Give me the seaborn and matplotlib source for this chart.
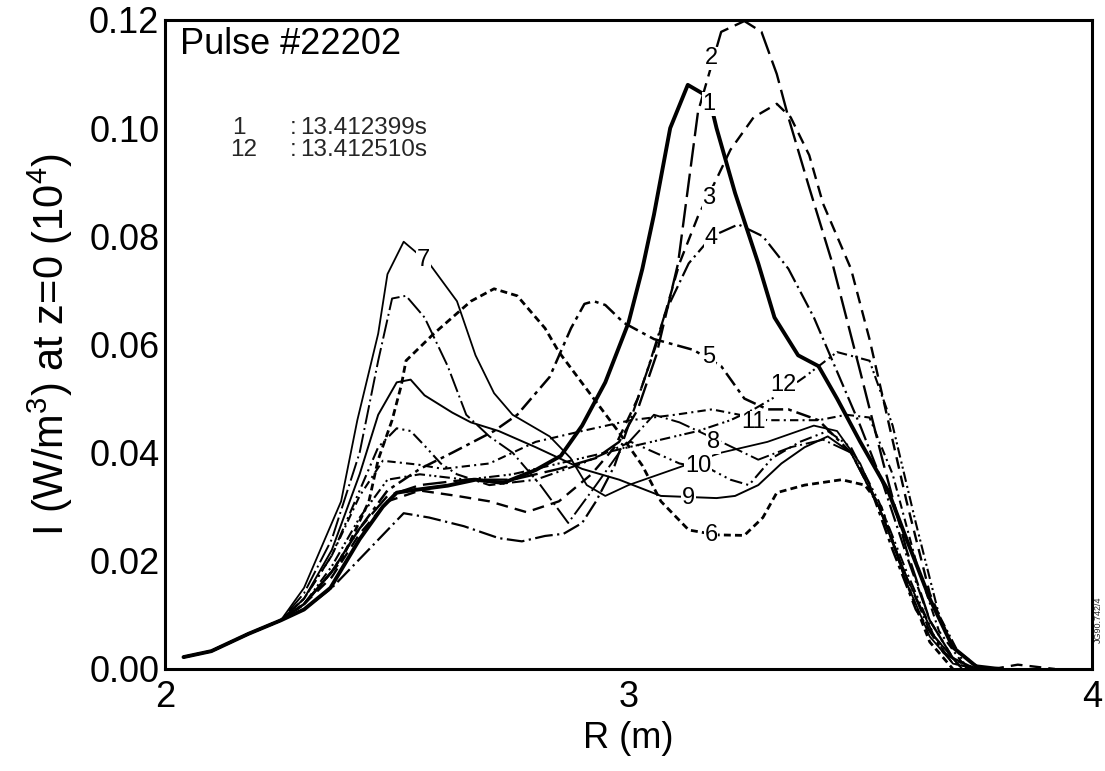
import numpy as np
import pandas as pd
import matplotlib
matplotlib.use("Agg")
import matplotlib.pyplot as plt
import seaborn as sns

# ---------------- data (R in m, I in 10^4 W/m^3) ----------------
common_r = [2.04, 2.10, 2.18, 2.25]
common_i = [0.0022, 0.0033, 0.0065, 0.0090]

r1 = [2.30, 2.357, 2.42, 2.47, 2.50, 2.53, 2.61, 2.67, 2.73, 2.80, 2.854, 2.90, 2.95, 3.00, 3.03, 3.055, 3.09, 3.128, 3.174, 3.19, 3.23, 3.28, 3.315, 3.366, 3.41, 3.45, 3.50, 3.56, 3.60, 3.65, 3.70, 3.75, 3.80]
i1 = [0.011, 0.015, 0.024, 0.030, 0.0326, 0.033, 0.0339, 0.035, 0.0344, 0.0368, 0.0394, 0.045, 0.053, 0.064, 0.074, 0.084, 0.100, 0.108, 0.1057, 0.100, 0.088, 0.075, 0.065, 0.058, 0.056, 0.050, 0.042, 0.033, 0.024, 0.013, 0.004, 0.0005, 0.0]

r2 = [2.30, 2.36, 2.42, 2.48, 2.55, 2.65, 2.75, 2.85, 2.93, 2.98, 3.02, 3.06, 3.107, 3.13, 3.15, 3.20, 3.25, 3.287, 3.32, 3.345, 3.39, 3.44, 3.50, 3.55, 3.60, 3.65, 3.70, 3.75]
i2 = [0.012, 0.018, 0.026, 0.032, 0.034, 0.035, 0.035, 0.037, 0.039, 0.042, 0.048, 0.058, 0.075, 0.090, 0.103, 0.1178, 0.1198, 0.1178, 0.110, 0.102, 0.089, 0.075, 0.055, 0.038, 0.022, 0.009, 0.002, 0.0]

r3 = [2.30, 2.36, 2.42, 2.48, 2.55, 2.63, 2.70, 2.78, 2.85, 2.92, 2.97, 3.02, 3.06, 3.11, 3.15, 3.19, 3.22, 3.27, 3.32, 3.35, 3.39, 3.42, 3.48, 3.52, 3.56, 3.60, 3.65, 3.70, 3.76, 3.80, 3.84, 3.88, 3.92]
i3 = [0.012, 0.017, 0.025, 0.031, 0.033, 0.032, 0.031, 0.029, 0.031, 0.036, 0.041, 0.050, 0.060, 0.075, 0.0837, 0.0906, 0.096, 0.102, 0.1045, 0.102, 0.095, 0.086, 0.074, 0.061, 0.046, 0.031, 0.014, 0.004, 0.0, 0.0002, 0.0008, 0.0004, 0.0]

r4 = [2.30, 2.36, 2.45, 2.515, 2.57, 2.645, 2.72, 2.77, 2.82, 2.86, 2.90, 2.93, 2.97, 3.00, 3.04, 3.08, 3.13, 3.18, 3.237, 3.29, 3.345, 3.40, 3.45, 3.50, 3.55, 3.60, 3.65, 3.70, 3.75]
i4 = [0.011, 0.015, 0.023, 0.0288, 0.028, 0.0264, 0.0242, 0.0236, 0.0246, 0.025, 0.027, 0.031, 0.0376, 0.045, 0.055, 0.066, 0.075, 0.080, 0.0822, 0.080, 0.074, 0.065, 0.055, 0.045, 0.034, 0.021, 0.009, 0.002, 0.0]

r5 = [2.30, 2.36, 2.42, 2.48, 2.55, 2.62, 2.71, 2.76, 2.83, 2.876, 2.905, 2.925, 2.95, 2.99, 3.055, 3.14, 3.20, 3.25, 3.30, 3.345, 3.41, 3.48, 3.52, 3.57, 3.62, 3.68, 3.74]
i5 = [0.012, 0.018, 0.026, 0.033, 0.037, 0.040, 0.044, 0.047, 0.054, 0.063, 0.0675, 0.068, 0.0673, 0.064, 0.061, 0.059, 0.056, 0.050, 0.048, 0.048, 0.046, 0.040, 0.034, 0.022, 0.011, 0.003, 0.0]

r6 = [2.30, 2.38, 2.44, 2.46, 2.49, 2.51, 2.52, 2.58, 2.66, 2.71, 2.76, 2.82, 2.85, 2.925, 2.98, 3.03, 3.07, 3.13, 3.19, 3.25, 3.29, 3.32, 3.38, 3.46, 3.51, 3.545, 3.60, 3.65, 3.70]
i6 = [0.012, 0.020, 0.031, 0.0387, 0.046, 0.0525, 0.057, 0.062, 0.068, 0.0703, 0.069, 0.063, 0.0586, 0.050, 0.0437, 0.0376, 0.031, 0.0257, 0.0248, 0.0247, 0.028, 0.0326, 0.034, 0.035, 0.034, 0.030, 0.016, 0.005, 0.0]

r7 = [2.30, 2.38, 2.415, 2.46, 2.48, 2.515, 2.57, 2.63, 2.67, 2.71, 2.75, 2.83, 2.875, 2.91, 2.95, 3.00, 3.10, 3.20, 3.30, 3.40, 3.45, 3.50, 3.55, 3.60, 3.65, 3.70, 3.75]
i7 = [0.015, 0.031, 0.046, 0.062, 0.073, 0.079, 0.075, 0.068, 0.058, 0.051, 0.047, 0.043, 0.039, 0.034, 0.032, 0.034, 0.037, 0.040, 0.042, 0.045, 0.044, 0.038, 0.028, 0.016, 0.006, 0.001, 0.0]

r8 = [2.30, 2.36, 2.42, 2.46, 2.49, 2.52, 2.56, 2.61, 2.65, 2.70, 2.75, 2.81, 2.87, 2.93, 2.98, 3.055, 3.11, 3.20, 3.28, 3.35, 3.42, 3.48, 3.54, 3.60, 3.65, 3.70, 3.76]
i8 = [0.014, 0.024, 0.040, 0.057, 0.0685, 0.069, 0.065, 0.056, 0.047, 0.043, 0.040, 0.034, 0.027, 0.034, 0.040, 0.047, 0.0456, 0.042, 0.0387, 0.041, 0.0424, 0.040, 0.030, 0.017, 0.007, 0.001, 0.0]

r9 = [2.30, 2.36, 2.42, 2.46, 2.50, 2.53, 2.56, 2.62, 2.66, 2.72, 2.80, 2.90, 2.98, 3.07, 3.19, 3.23, 3.28, 3.33, 3.38, 3.43, 3.48, 3.54, 3.60, 3.66, 3.72]
i9 = [0.013, 0.022, 0.036, 0.047, 0.053, 0.0535, 0.0506, 0.0474, 0.0456, 0.044, 0.041, 0.037, 0.035, 0.032, 0.0316, 0.032, 0.034, 0.038, 0.041, 0.043, 0.040, 0.030, 0.017, 0.006, 0.0]

r10 = [2.30, 2.36, 2.42, 2.46, 2.50, 2.53, 2.56, 2.595, 2.63, 2.70, 2.80, 2.90, 3.005, 3.11, 3.18, 3.22, 3.26, 3.31, 3.37, 3.43, 3.48, 3.54, 3.60, 3.66, 3.72]
i10 = [0.013, 0.021, 0.033, 0.041, 0.0445, 0.044, 0.0413, 0.038, 0.036, 0.034, 0.035, 0.038, 0.042, 0.038, 0.0368, 0.035, 0.034, 0.039, 0.042, 0.044, 0.041, 0.031, 0.018, 0.006, 0.0]

r11 = [2.30, 2.36, 2.42, 2.47, 2.545, 2.60, 2.70, 2.80, 2.90, 3.005, 3.10, 3.18, 3.30, 3.41, 3.47, 3.52, 3.57, 3.62, 3.67, 3.73]
i11 = [0.013, 0.021, 0.032, 0.0385, 0.0378, 0.037, 0.038, 0.042, 0.044, 0.046, 0.047, 0.048, 0.046, 0.046, 0.047, 0.0465, 0.036, 0.020, 0.007, 0.0]

r12 = [2.30, 2.36, 2.42, 2.48, 2.55, 2.65, 2.75, 2.85, 2.95, 3.05, 3.15, 3.22, 3.27, 3.33, 3.38, 3.45, 3.52, 3.57, 3.62, 3.67, 3.73]
i12 = [0.012, 0.019, 0.028, 0.035, 0.036, 0.035, 0.036, 0.038, 0.040, 0.042, 0.044, 0.046, 0.048, 0.051, 0.054, 0.0586, 0.057, 0.045, 0.027, 0.010, 0.0]

curve_names = ["1", "2", "3", "4", "5", "6", "7", "8", "9", "10", "11", "12"]
curve_r = [r1, r2, r3, r4, r5, r6, r7, r8, r9, r10, r11, r12]
curve_i = [i1, i2, i3, i4, i5, i6, i7, i8, i9, i10, i11, i12]

# curve labels (R, I)
label_text = ["2", "1", "3", "4", "5", "7", "12", "11", "8", "10", "9", "6"]
label_r = [3.178, 3.174, 3.174, 3.178, 3.174, 2.558, 3.334, 3.269, 3.183, 3.150, 3.129, 3.178]
label_i = [0.1129, 0.1045, 0.0871, 0.0796, 0.0577, 0.0757, 0.0525, 0.0456, 0.0419, 0.0376, 0.0316, 0.0247]

x_ticks = [2, 3, 4]
y_ticks = [0.00, 0.02, 0.04, 0.06, 0.08, 0.10, 0.12]
y_tick_labels = ["0.00", "0.02", "0.04", "0.06", "0.08", "0.10", "0.12"]

# ---------------- build frame ----------------
rows = []
for name, rr, ii in zip(curve_names, curve_r, curve_i):
    for r, v in zip(common_r + rr, common_i + ii):
        rows.append((name, r, v))
df = pd.DataFrame(rows, columns=["curve", "R", "I"])

sns.set_theme(style="white")
plt.rcParams["font.family"] = ["Liberation Sans", "DejaVu Sans"]
plt.rcParams["mathtext.fontset"] = "custom"
plt.rcParams["mathtext.rm"] = "Liberation Sans"

fig = plt.figure(figsize=(11.05, 7.71), dpi=100)
ax = fig.add_axes([0.1493, 0.1323, 0.8389, 0.8418])

dashes = {
    "1": "", "2": (10, 3), "3": (5, 3), "4": (8, 2, 1, 2), "5": (6, 2, 1.5, 2),
    "6": (2.5, 1.5), "7": "", "8": (10, 2, 1, 2), "9": "", "10": (6, 2, 1, 2, 1, 2),
    "11": (4, 2, 1, 2), "12": (1, 1.5, 1, 1.5, 5, 2),
}
sizes = {"1": 2.8, "2": 1.7, "3": 1.7, "4": 1.6, "5": 1.8, "6": 2.0, "7": 1.3,
         "8": 1.4, "9": 1.4, "10": 1.5, "11": 1.5, "12": 1.5}
palette = {n: "black" for n in curve_names}

sns.lineplot(data=df, x="R", y="I", hue="curve", style="curve", size="curve",
             palette=palette, dashes=dashes, sizes=sizes, hue_order=curve_names,
             style_order=curve_names, size_order=curve_names,
             estimator=None, sort=False, legend=False, ax=ax)

for t, r, v in zip(label_text, label_r, label_i):
    ax.text(r, v, t, fontsize=17, ha="center", va="center", color="black",
            bbox=dict(facecolor="white", edgecolor="none", pad=0.5))

ax.set_xlim(2, 4)
ax.set_ylim(0, 0.12)
ax.set_xticks(x_ticks)
ax.set_xticklabels([str(t) for t in x_ticks])
ax.set_yticks(y_ticks)
ax.set_yticklabels(y_tick_labels)
ax.tick_params(axis="both", direction="in", length=12, width=1.5, labelsize=26, colors="black", pad=4)
ax.tick_params(axis="x", pad=8)
for s in ax.spines.values():
    s.set_visible(True)
    s.set_color("black")
    s.set_linewidth(2.2)

ax.set_xlabel("R (m)", fontsize=26, labelpad=4, color="black")
ax.set_ylabel(r"I (W/m$^3$) at z=0 (10$^4$)", fontsize=30, labelpad=10, color="black")

ax.text(0.016, 0.962, "Pulse #22202", transform=ax.transAxes, fontsize=26,
        ha="left", va="center", color="black")
ax.text(0.072, 0.833, "1", transform=ax.transAxes, fontsize=17.5, ha="left", va="center")
ax.text(0.135, 0.833, ":", transform=ax.transAxes, fontsize=17.5, ha="left", va="center")
ax.text(0.146, 0.833, "13.412399s", transform=ax.transAxes, fontsize=17.5, ha="left", va="center")
ax.text(0.070, 0.799, "12", transform=ax.transAxes, fontsize=17.5, ha="left", va="center")
ax.text(0.135, 0.799, ":", transform=ax.transAxes, fontsize=17.5, ha="left", va="center")
ax.text(0.146, 0.799, "13.412510s", transform=ax.transAxes, fontsize=17.5, ha="left", va="center")

fig.text(0.9937, 0.196, "JG90.742/4", rotation=90, fontsize=6.5, ha="center", va="center")

fig.savefig("out.png", dpi=100, facecolor="white")
